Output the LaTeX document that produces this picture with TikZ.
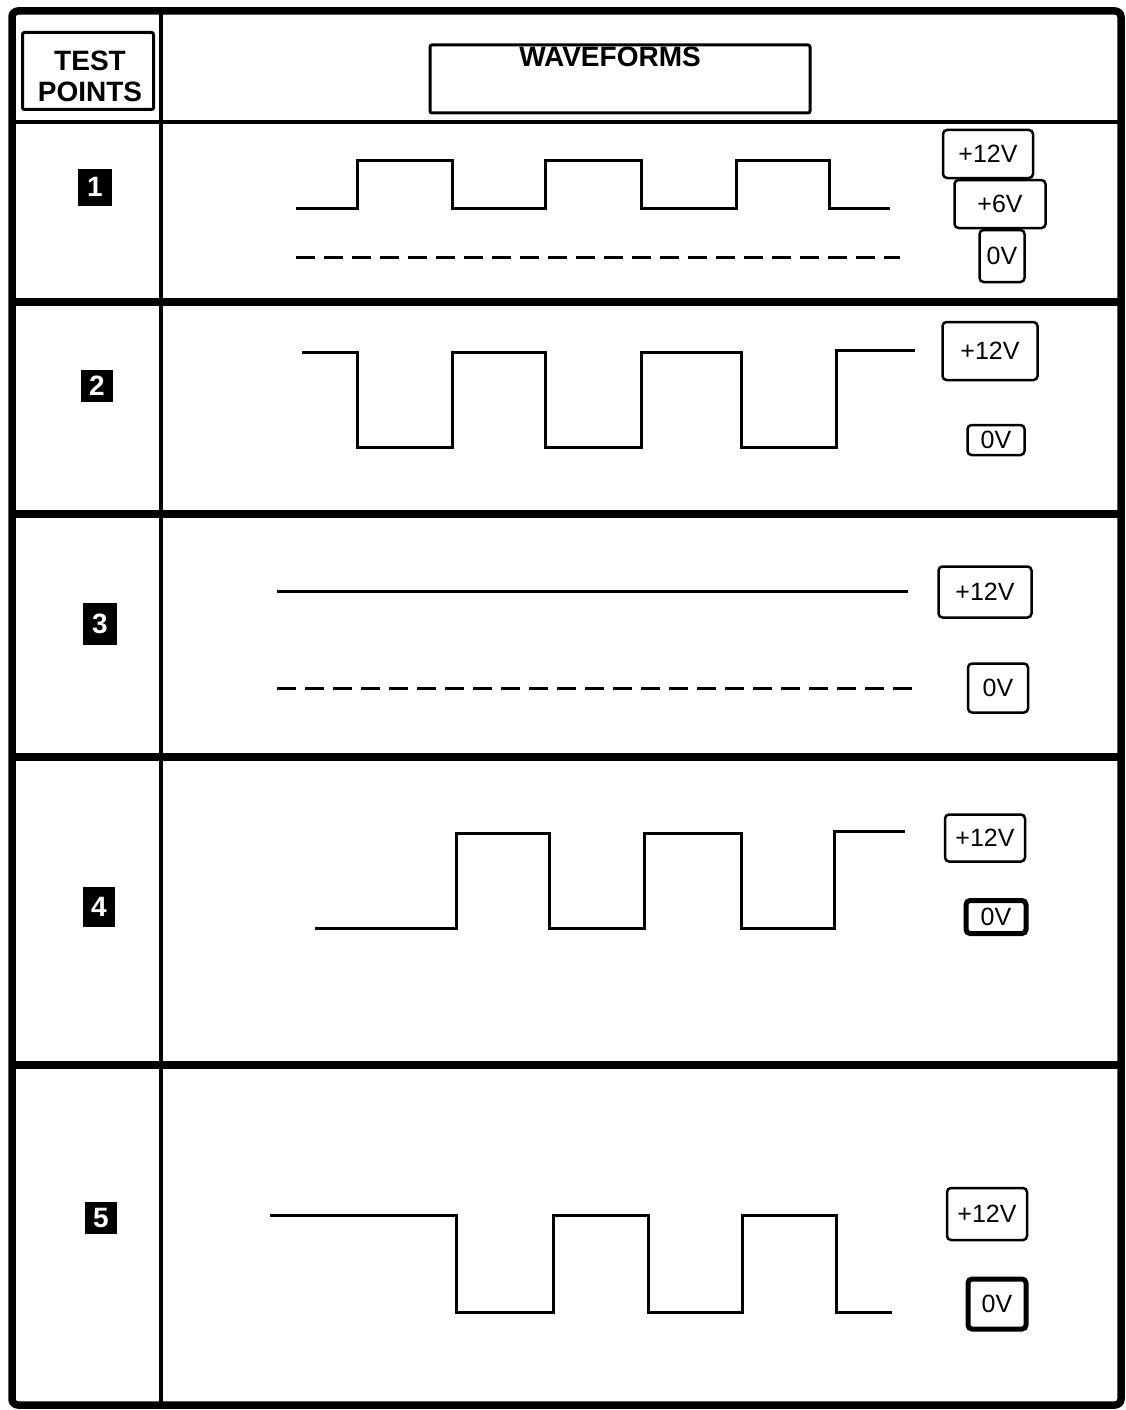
\documentclass[tikz,border=0pt]{standalone}
\usepackage{fontspec}
\setmainfont{Liberation Sans}
\begin{document}
\begin{tikzpicture}[x=1pt,y=-1pt,
  frame/.style={line width=7.5pt, rounded corners=6pt},
  sep/.style={line width=8pt},
  thinsep/.style={line width=3.5pt},
  wave/.style={line width=3pt, line join=miter},
  dashwave/.style={line width=3pt, dash pattern=on 19pt off 9pt},
  lbl/.style={draw, line width=2.5pt, rounded corners=4pt, inner sep=0pt,
    font=\fontsize{25}{25}\selectfont},
  heavylbl/.style={lbl, line width=5pt},
  hdrbox/.style={draw, line width=3pt, rounded corners=2pt, inner sep=0pt},
  hdrtext/.style={font=\bfseries\fontsize{28}{31}\selectfont, align=center, inner sep=0pt},
  marker/.style={fill=black, text=white, inner sep=0pt,
    font=\bfseries\fontsize{28}{28}\selectfont}]
\useasboundingbox (0,0) rectangle (1126,1410);
% frame and grid
\draw[frame] (12,11) rectangle (1121,1405);
\draw[thinsep] (161,11) -- (161,1405);
\draw[line width=4pt] (12,122) -- (1121,122);
\foreach \yy in {302,514,757,1065} \draw[sep] (12,\yy) -- (1121,\yy);
% header
\node[hdrbox, minimum width=131pt, minimum height=77pt] (tpbox) at (88,71) {};
\node[hdrtext] (tptext) at (90,76) {TEST\\POINTS};
\node[hdrbox, minimum width=380pt, minimum height=68pt] (wfbox) at (620,79) {};
\node[hdrtext, anchor=north] (wftext) at (610,47) {WAVEFORMS};
% markers
\node[marker, minimum width=34pt, minimum height=37pt] (m1) at (95,187) {1};
\node[marker, minimum width=32pt, minimum height=32pt] (m2) at (97,386) {2};
\node[marker, minimum width=34pt, minimum height=42pt] (m3) at (100,624) {3};
\node[marker, minimum width=32pt, minimum height=40pt] (m4) at (99,907) {4};
\node[marker, minimum width=32pt, minimum height=32pt] (m5) at (101,1218) {5};
% row 1
\draw[wave] (296,208) -- (357,208) -- (357,160) -- (452,160) -- (452,208) -- (545,208) -- (545,160) -- (641,160) -- (641,208) -- (736,208) -- (736,160) -- (829,160) -- (829,208) -- (890,208);
\draw[dashwave] (296,257) -- (900,257);
\node[lbl, minimum width=45pt, minimum height=52pt] (r1z) at (1002,256) {0V};
\node[lbl, fill=white, minimum width=91pt, minimum height=48pt] (r1s) at (1000,204) {+6V};
\node[lbl, fill=white, minimum width=90pt, minimum height=48pt] (r1t) at (988,154) {+12V};
% row 2
\draw[wave] (302,352) -- (357,352) -- (357,447) -- (452,447) -- (452,352) -- (545,352) -- (545,447) -- (641,447) -- (641,352) -- (741,352) -- (741,447) -- (836,447) -- (836,350) -- (915,350);
\node[lbl, minimum width=95pt, minimum height=58pt] (r2t) at (990,351) {+12V};
\node[lbl, minimum width=57pt, minimum height=30pt] (r2z) at (996,440) {0V};
% row 3
\draw[wave] (277,591) -- (908,591);
\draw[dashwave] (277,688) -- (920,688);
\node[lbl, minimum width=93pt, minimum height=51pt] (r3t) at (985,592) {+12V};
\node[lbl, minimum width=60pt, minimum height=49pt] (r3z) at (998,688) {0V};
% row 4
\draw[wave] (315,928) -- (456,928) -- (456,833) -- (549,833) -- (549,928) -- (644,928) -- (644,833) -- (741,833) -- (741,928) -- (834,928) -- (834,831) -- (905,831);
\node[lbl, minimum width=80pt, minimum height=47pt] (r4t) at (985,838) {+12V};
\node[heavylbl, minimum width=60pt, minimum height=33pt] (r4z) at (996,917) {0V};
% row 5
\draw[wave] (270,1215) -- (456,1215) -- (456,1312) -- (553,1312) -- (553,1215) -- (648,1215) -- (648,1312) -- (742,1312) -- (742,1215) -- (836,1215) -- (836,1312) -- (892,1312);
\node[lbl, minimum width=80pt, minimum height=52pt] (r5t) at (987,1214) {+12V};
\node[heavylbl, minimum width=58pt, minimum height=50pt] (r5z) at (997,1304) {0V};
\end{tikzpicture}
\end{document}
